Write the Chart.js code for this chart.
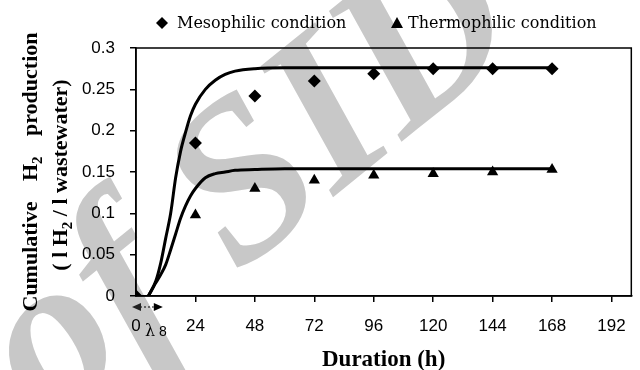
<!DOCTYPE html>
<html><head><meta charset="utf-8">
<script src="https://cdn.jsdelivr.net/npm/chart.js@4/dist/chart.umd.min.js"></script>
<style>html,body{margin:0;padding:0;background:#fff;}</style>
</head><body>
<canvas id="c" width="640" height="370"></canvas>
<script>
// ---- data ----
const hours = [0, 24, 48, 72, 96, 120, 144, 168];
const mesophilic = [0, 0.185, 0.242, 0.260, 0.269, 0.275, 0.275, 0.275];
const thermophilic = [0, 0.098, 0.130, 0.140, 0.146, 0.148, 0.150, 0.153];
const fitHours = [5, 8, 10, 12, 14, 16, 18, 20, 22, 24, 28, 32, 36, 40, 48, 60, 168];
const mesophilicFit = [0, 0.018, 0.040, 0.070, 0.100, 0.143, 0.175, 0.198, 0.218, 0.232, 0.250, 0.261, 0.268, 0.272, 0.275, 0.276, 0.276];
const thermophilicFit = [0, 0.016, 0.026, 0.038, 0.056, 0.075, 0.094, 0.109, 0.121, 0.130, 0.143, 0.148, 0.150, 0.152, 0.153, 0.154, 0.154];
const xTicks = [0, 24, 48, 72, 96, 120, 144, 168, 192];
const yTicks = [0, 0.05, 0.1, 0.15, 0.2, 0.25, 0.3];
const yTickLabels = ['0', '0.05', '0.1', '0.15', '0.2', '0.25', '0.3'];
const seriesNames = ['Mesophilic condition', 'Thermophilic condition'];
const lagSymbol = 'λ';
const lagValue = 8;
const xTitle = 'Duration (h)';

const pts = (xs, ys) => xs.map((x, i) => ({x, y: ys[i]}));

const deco = {
  id: 'deco',
  beforeDraw(chart) {
    const ctx = chart.ctx;
    ctx.save();
    ctx.fillStyle = '#fff';
    ctx.fillRect(0, 0, chart.width, chart.height);
    ctx.translate(252, 188);
    ctx.rotate(-39 * Math.PI / 180);
    ctx.font = 'italic bold 225px "Liberation Serif"';
    ctx.fillStyle = '#c8c8c8';
    ctx.textAlign = 'center';
    ctx.textBaseline = 'middle';
    ctx.fillText('of SID', 0, 0);
    ctx.restore();
  },
  afterDraw(chart) {
    const {ctx, chartArea: a, scales: {x, y}} = chart;
    ctx.save();
    // plot frame
    ctx.strokeStyle = '#000';
    ctx.lineWidth = 1.5;
    ctx.strokeRect(a.left, a.top, a.right - a.left, a.bottom - a.top);

    // legend
    ctx.fillStyle = '#000';
    ctx.font = '16px "DejaVu Serif"';
    ctx.textBaseline = 'alphabetic';
    ctx.textAlign = 'left';
    const ly = 23;
    ctx.beginPath();
    ctx.moveTo(162, ly - 6); ctx.lineTo(168, ly); ctx.lineTo(162, ly + 6); ctx.lineTo(156, ly); ctx.closePath(); ctx.fill();
    ctx.fillText(seriesNames[0], 177, ly + 5);
    ctx.beginPath();
    ctx.moveTo(397, ly - 6); ctx.lineTo(403, ly + 5); ctx.lineTo(391, ly + 5); ctx.closePath(); ctx.fill();
    ctx.fillText(seriesNames[1], 408, ly + 5);

    // y title
    const sub = (txt, px, py, size) => { ctx.font = 'bold ' + size + 'px "Liberation Serif"'; ctx.fillText(txt, px, py); return ctx.measureText(txt).width; };
    const big = 22, small = 15;
    const cy = (a.top + a.bottom) / 2;
    ctx.save();
    ctx.translate(37, cy);
    ctx.rotate(-Math.PI / 2);
    ctx.font = 'bold ' + big + 'px "Liberation Serif"';
    const w1 = ctx.measureText('Cumulative').width;
    const w2 = ctx.measureText('H').width;
    const w4 = ctx.measureText('production').width;
    ctx.font = 'bold ' + small + 'px "Liberation Serif"';
    const w3 = ctx.measureText('2').width;
    const total = 279;
    const gap = (total - w1 - w2 - w3 - w4) / 2;
    let px = -total / 2;
    px += sub('Cumulative', px, 0, big) + gap;
    px += sub('H', px, 0, big);
    px += sub('2', px, 5, small) + gap;
    sub('production', px, 0, big);
    ctx.restore();
    ctx.save();
    ctx.translate(67, cy + 3);
    ctx.rotate(-Math.PI / 2);
    const p1 = '( l H', p3 = ' / l wastewater)';
    ctx.font = 'bold ' + big + 'px "Liberation Serif"';
    const v1 = ctx.measureText(p1).width, v3 = ctx.measureText(p3).width;
    ctx.font = 'bold ' + small + 'px "Liberation Serif"';
    const v2 = ctx.measureText('2').width;
    let qx = -(v1 + v2 + v3) / 2;
    qx += sub(p1, qx, 0, big);
    qx += sub('2', qx, 5, small);
    sub(p3, qx, 0, big);
    ctx.restore();

    // x title
    ctx.font = 'bold 23px "Liberation Serif"';
    ctx.textAlign = 'center';
    ctx.fillText(xTitle, (a.left + a.right) / 2, 366);

    // lag arrow
    const x0 = x.getPixelForValue(0), x8 = x.getPixelForValue(lagValue);
    const ay = 307;
    ctx.strokeStyle = '#000';
    ctx.lineWidth = 1.2;
    ctx.setLineDash([2, 2]);
    ctx.beginPath(); ctx.moveTo(x0 + 4, ay); ctx.lineTo(x8 - 2, ay); ctx.stroke();
    ctx.setLineDash([]);
    ctx.fillStyle = '#222';
    ctx.beginPath(); ctx.moveTo(x0 - 4, ay); ctx.lineTo(x0 + 5, ay - 4); ctx.lineTo(x0 + 5, ay + 4); ctx.closePath(); ctx.fill();
    ctx.fillStyle = '#000';
    ctx.beginPath(); ctx.moveTo(x8 + 7, ay); ctx.lineTo(x8 - 2, ay - 4); ctx.lineTo(x8 - 2, ay + 4); ctx.closePath(); ctx.fill();
    ctx.font = '16px "DejaVu Serif"';
    ctx.textAlign = 'center';
    ctx.fillText(lagSymbol, x0 + 14, 336);
    ctx.font = '14px "Liberation Sans"';
    ctx.fillText(String(lagValue), x8 + 7, 336);
    ctx.restore();
  }
};

new Chart(document.getElementById('c'), {
  type: 'scatter',
  data: {
    datasets: [
      {label: seriesNames[0] + ' fit', data: pts(fitHours, mesophilicFit), showLine: true, pointRadius: 0,
       borderColor: '#000', borderWidth: 3, cubicInterpolationMode: 'monotone', order: 2},
      {label: seriesNames[1] + ' fit', data: pts(fitHours, thermophilicFit), showLine: true, pointRadius: 0,
       borderColor: '#000', borderWidth: 3, cubicInterpolationMode: 'monotone', order: 2},
      {label: seriesNames[0], data: pts(hours, mesophilic), pointStyle: 'rectRot', pointRadius: 6.5,
       backgroundColor: '#000', borderColor: '#000', borderWidth: 0, order: 1},
      {label: seriesNames[1], data: pts(hours, thermophilic), pointStyle: 'triangle', pointRadius: 6.5,
       backgroundColor: '#000', borderColor: '#000', borderWidth: 0, order: 1}
    ]
  },
  options: {
    responsive: false,
    animation: false,
    devicePixelRatio: 1,
    layout: {padding: {top: 48, right: 8, left: 0, bottom: 0}},
    plugins: {legend: {display: false}, tooltip: {enabled: false}},
    elements: {line: {tension: 0}},
    scales: {
      x: {
        type: 'linear', min: 0, max: 200,
        afterBuildTicks: s => { s.ticks = xTicks.map(v => ({value: v})); },
        afterFit: s => { s.height = 74; },
        ticks: {autoSkip: false, maxRotation: 0, padding: 14, color: '#000',
                font: {family: '"Liberation Sans"', size: 17}, callback: v => String(v)},
        grid: {drawOnChartArea: false, drawTicks: true, tickLength: 6, lineWidth: 1.5,
               color: c => (c.tick && c.tick.value === 0) ? 'rgba(0,0,0,0)' : '#000'},
        border: {color: '#000', width: 1.5}
      },
      y: {
        min: 0, max: 0.3,
        afterBuildTicks: s => { s.ticks = yTicks.map(v => ({value: v})); },
        afterFit: s => { s.width = 136; },
        ticks: {padding: 15, color: '#000', font: {family: '"Liberation Sans"', size: 17},
                callback: v => yTickLabels[yTicks.indexOf(v)]},
        grid: {drawOnChartArea: false, drawTicks: true, tickLength: 6, lineWidth: 1.5, color: '#000'},
        border: {color: '#000', width: 1.5}
      }
    }
  },
  plugins: [deco]
});
</script>
</body></html>
